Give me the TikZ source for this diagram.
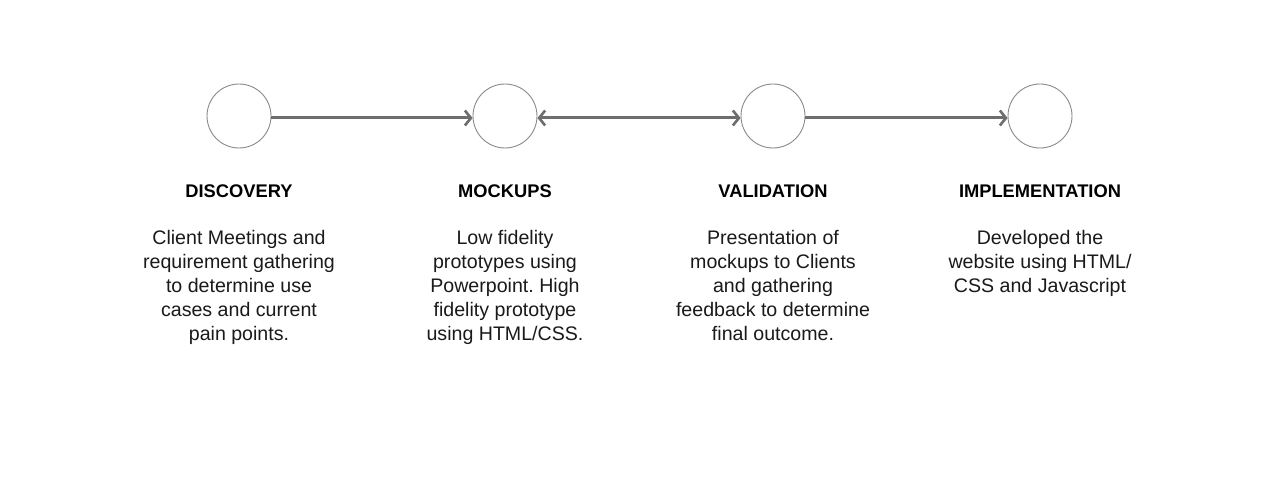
\documentclass[tikz,border=0pt]{standalone}
\usepackage{fontspec}
\setmainfont{Liberation Sans}
\usetikzlibrary{arrows.meta}
\frenchspacing
\definecolor{linegray}{HTML}{6E6E6E}
\definecolor{circgray}{HTML}{8A8A8A}
\definecolor{txt}{HTML}{1A1A1A}
\tikzset{
  stage/.style={circle, draw=circgray, line width=0.9pt, minimum size=64pt, inner sep=0pt},
  conn/.style={draw=linegray, line width=3pt, -{Straight Barb[length=6pt,width=15pt,line width=2.6pt]}},
  title/.style={font=\fontsize{18.3}{22}\selectfont\bfseries, text=black, inner sep=0pt, anchor=base},
  body/.style={font=\fontsize{19.6}{24}\selectfont, text=txt, align=center, inner sep=0pt, anchor=north}
}
\begin{document}
\begin{tikzpicture}[x=1pt,y=-1pt]
\useasboundingbox (0,0) rectangle (1280,500);
\fill[white] (0,0) rectangle (1280,500);
\node[stage] (c1) at (239,116) {};
\node[stage] (c2) at (505,116) {};
\node[stage] (c3) at (773,116) {};
\node[stage] (c4) at (1040,116) {};
\draw[conn] ([yshift=-2pt]c1.east) -- ([yshift=-2pt]c2.west);
\draw[conn, {Straight Barb[length=6pt,width=15pt,line width=2.6pt]}-{Straight Barb[length=6pt,width=15pt,line width=2.6pt]}] ([yshift=-2pt]c2.east) -- ([yshift=-2pt]c3.west);
\draw[conn] ([yshift=-2pt]c3.east) -- ([yshift=-2pt]c4.west);
\node[title] (t1) at (239,197) {DISCOVERY};
\node[title] (t2) at (505,197) {MOCKUPS};
\node[title] (t3) at (773,197) {VALIDATION};
\node[title] (t4) at (1040,197) {IMPLEMENTATION};
\node[body] (b1) at (239,230) {Client Meetings and\\requirement gathering\\to determine use\\cases and current\\pain points.};
\node[body] (b2) at (505,230) {Low fidelity\\prototypes using\\Powerpoint. High\\fidelity prototype\\using HTML/CSS.};
\node[body] (b3) at (773,230) {Presentation of\\mockups to Clients\\and gathering\\feedback to determine\\final outcome.};
\node[body] (b4) at (1040,230) {Developed the\\website using HTML/\\CSS and Javascript};
\end{tikzpicture}
\end{document}
